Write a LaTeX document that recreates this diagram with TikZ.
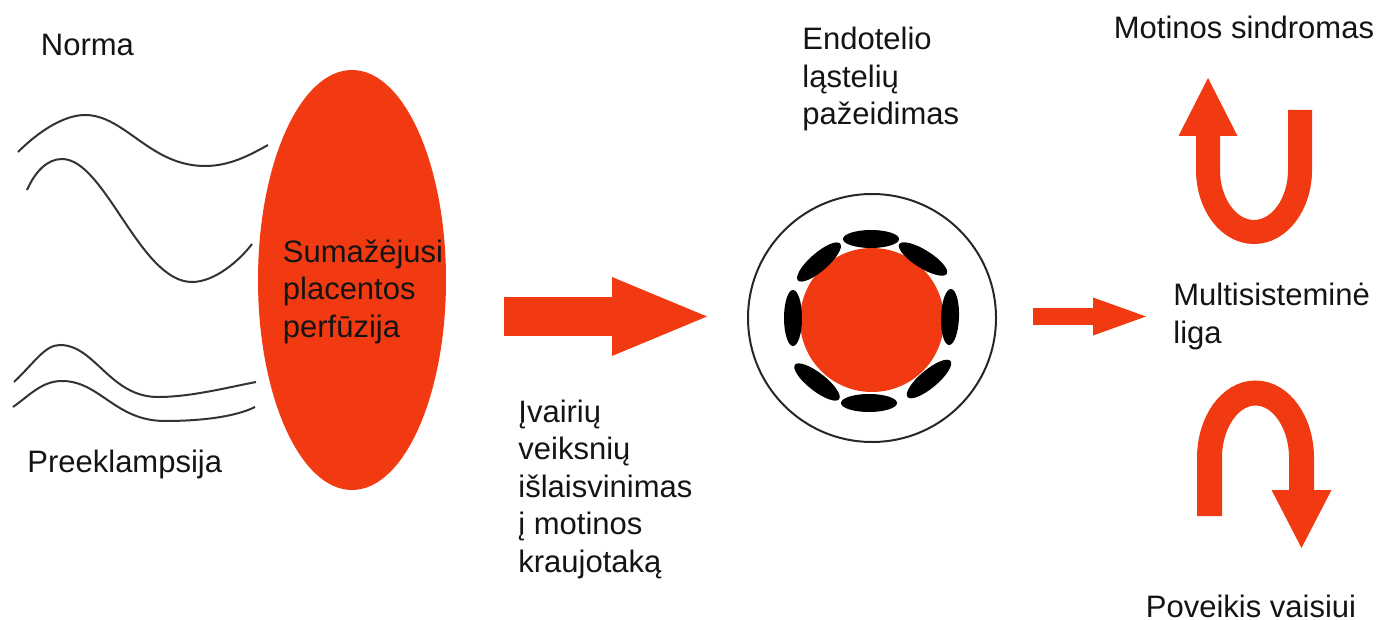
\documentclass[tikz,border=0pt]{standalone}
\usepackage{fontspec}
\setmainfont{Liberation Sans}
\usetikzlibrary{arrows.meta,shapes.geometric}
\definecolor{flow}{HTML}{F23A12}
\tikzset{
  label text/.style={anchor=base west,inner sep=0pt,align=left,text=black!92,
    font=\fontsize{15.5}{18.75}\selectfont},
  wave/.style={draw=black!80,line width=1pt},
  cell/.style={ellipse,fill=black,inner sep=0pt,minimum width=28pt,minimum height=9pt},
  big flow/.style={draw=flow,line width=19.5pt,-{Triangle[length=47.5pt,width=39.5pt,line width=0pt]}},
  small flow/.style={draw=flow,line width=8.5pt,-{Triangle[length=26.5pt,width=19pt,line width=0pt]}},
  turn up/.style={draw=flow,line width=12pt,-{Triangle[length=29pt,width=29.5pt,line width=0pt]}},
  turn down/.style={draw=flow,line width=12.5pt,-{Triangle[length=29pt,width=30pt,line width=0pt]}}
}
\begin{document}
\begin{tikzpicture}[x=0.5pt,y=-0.5pt]
\useasboundingbox (0,0) rectangle (1380,620);

% Placenta with the spiral arteries running into it
\node[ellipse,fill=flow,inner sep=0pt,minimum width=94pt,minimum height=210pt] (placenta) at (352,280) {};
\draw[wave] (18,152) .. controls (40,130) and (65,115) .. (85,115)
  .. controls (125,115) and (150,166) .. (205,166)
  .. controls (230,166) and (250,155) .. (268,145);
\draw[wave] (27,190) .. controls (35,172) and (47,159) .. (62,159)
  .. controls (105,159) and (140,282) .. (192,282)
  .. controls (215,282) and (240,260) .. (252,244);
\draw[wave] (14,382) .. controls (35,362) and (45,345) .. (60,345)
  .. controls (95,345) and (110,397) .. (158,397)
  .. controls (190,397) and (225,388) .. (256,382);
\draw[wave] (13,407) .. controls (30,395) and (42,381) .. (62,381)
  .. controls (100,381) and (115,421) .. (165,421)
  .. controls (200,421) and (235,417) .. (255,407);

\node[label text] (norma) at (40.5,56) {Norma};
\node[label text] (pre) at (27,472) {Preeklampsija};
\node[label text] (perf) at (282.5,337) {Sumažėjusi\\placentos\\perfūzija};

% Flow from placenta to vessel
\coordinate (flowA) at (504,316.5);
\coordinate (flowB) at (707,316.5);
\draw[big flow] (flowA) -- (flowB);
\node[label text] (factors) at (518,572) {Įvairių\\veiksnių\\išlaisvinimas\\į motinos\\kraujotaką};

% Vessel cross-section with damaged endothelial lining
\node[circle,draw=black!85,line width=1pt,inner sep=0pt,minimum size=124pt] (vessel) at (872,318) {};
\node[circle,fill=flow,inner sep=0pt,minimum size=72pt] (lumen) at (872,320) {};
\node[cell] (c1) at (871,239) {};
\node[cell,rotate=-32] (c2) at (923,259) {};
\node[cell,rotate=41] (c3) at (819,262) {};
\node[cell,rotate=90] (c4) at (793,318) {};
\node[cell,rotate=88] (c5) at (950,317) {};
\node[cell,rotate=40] (c6) at (929,379) {};
\node[cell,rotate=-38] (c7) at (817,382) {};
\node[cell] (c8) at (869,403) {};
\node[label text] (endo) at (802,125) {Endotelio\\ląstelių\\pažeidimas};

% Flow from vessel to multisystem disease
\coordinate (flowC) at (1033,316.5);
\coordinate (flowD) at (1146,316.5);
\draw[small flow] (flowC) -- (flowD);
\node[label text] (multi) at (1173,343) {Multisisteminė\\liga};

% Maternal and fetal outcomes
\coordinate (upStart) at (1300,110);
\coordinate (upEnd) at (1208,78);
\draw[turn up] (upStart) -- (1300,170) arc[start angle=0,end angle=180,x radius=46,y radius=62] -- (upEnd);
\node[label text] (mother) at (1113.5,39) {Motinos sindromas};

\coordinate (downStart) at (1209.5,516);
\coordinate (downEnd) at (1301.5,548);
\draw[turn down] (downStart) -- (1209.5,458) arc[start angle=180,end angle=360,x radius=46,y radius=65] -- (downEnd);
\node[label text] (fetus) at (1145.5,617.5) {Poveikis vaisiui};
\end{tikzpicture}
\end{document}
